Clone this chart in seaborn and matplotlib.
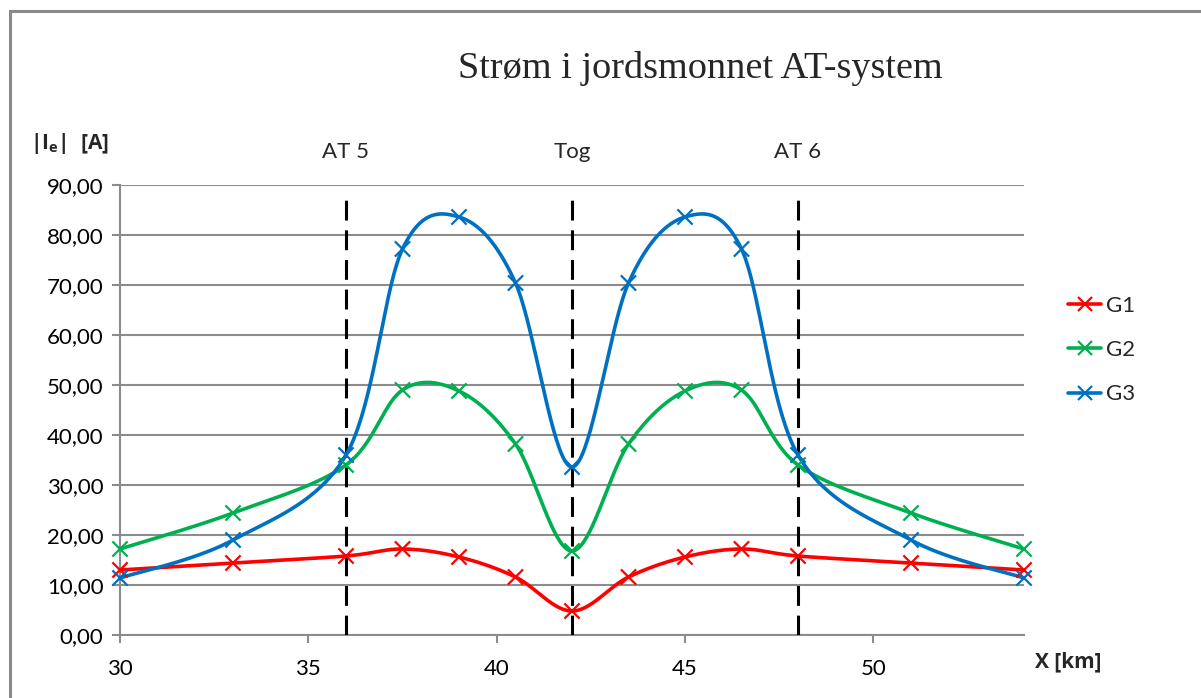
import numpy as np
import pandas as pd
import matplotlib
matplotlib.use("Agg")
import matplotlib.pyplot as plt
from matplotlib.lines import Line2D
from matplotlib.patches import Rectangle
import seaborn as sns

# ---- data ----
x_km = [30, 33, 36, 37.5, 39, 40.5, 42, 43.5, 45, 46.5, 48, 51, 54]
g1 = [13.0, 14.4, 15.8, 17.2, 15.6, 11.6, 4.8, 11.6, 15.6, 17.2, 15.8, 14.4, 13.0]
g2 = [17.2, 24.4, 34.0, 49.0, 48.8, 38.2, 16.8, 38.2, 48.8, 49.0, 34.0, 24.4, 17.2]
g3 = [11.4, 19.0, 36.0, 77.2, 83.6, 70.4, 33.6, 70.4, 83.6, 77.2, 36.0, 19.0, 11.4]
series_names = ["G1", "G2", "G3"]
series_colors = ["#FF0000", "#00B050", "#0070C0"]
markers_x = [36, 42, 48]
markers_lbl = ["AT 5", "Tog", "AT 6"]
yticks = [0, 10, 20, 30, 40, 50, 60, 70, 80, 90]
xticks = [30, 35, 40, 45, 50]


def smooth(xs, ys, n=40):
    """Excel-like smoothed line (Catmull-Rom Bezier)."""
    P = np.column_stack([xs, ys]).astype(float)
    out = []
    m = len(P)
    for i in range(m - 1):
        p0 = P[i - 1] if i > 0 else P[i]
        p1 = P[i]
        p2 = P[i + 1]
        p3 = P[i + 2] if i + 2 < m else P[i + 1]
        c1 = p1 + (p2 - p0) / 6.0
        c2 = p2 - (p3 - p1) / 6.0
        t = np.linspace(0, 1, n)[:, None]
        seg = ((1 - t) ** 3) * p1 + 3 * ((1 - t) ** 2) * t * c1 + 3 * (1 - t) * t ** 2 * c2 + t ** 3 * p2
        out.append(seg if i == 0 else seg[1:])
    return np.vstack(out)


frames = []
pts = []
for name, vals in zip(series_names, [g1, g2, g3]):
    s = smooth(x_km, vals)
    frames.append(pd.DataFrame({"x": s[:, 0], "y": s[:, 1], "series": name}))
    pts.append(pd.DataFrame({"x": x_km, "y": vals, "series": name}))
curves = pd.concat(frames, ignore_index=True)
points = pd.concat(pts, ignore_index=True)
palette = dict(zip(series_names, series_colors))

sns.set_theme(style="white")
plt.rcParams["font.family"] = ["Lato", "DejaVu Sans"]
plt.rcParams["mathtext.fontset"] = "custom"
plt.rcParams["mathtext.bf"] = "Open Sans:bold"
plt.rcParams["mathtext.rm"] = "Open Sans:bold"

fig = plt.figure(figsize=(12.01, 6.98), dpi=100)
ax = fig.add_axes([120 / 1201, 1 - 635 / 698, (1024 - 120) / 1201, (635 - 185) / 698])

# outer chart border
fig.patches.append(Rectangle((10 / 1201, -0.05), 1.2, 1 - 11 / 698 + 0.05,
                             transform=fig.transFigure, fill=False,
                             edgecolor="#8a8a8a", linewidth=2.2, zorder=0))

FS = 16
ax.set_xlim(30, 54)
ax.set_ylim(0, 90)
ax.set_yticks(yticks)
ax.set_xticks(xticks)
ax.set_yticklabels([f"{v:.2f}".replace(".", ",") for v in yticks], fontsize=FS)
ax.set_xticklabels([str(v) for v in xticks], fontsize=FS)
ax.grid(axis="y", color="#8c8c8c", linewidth=1.5)
ax.set_axisbelow(True)
for sp in ["top", "right"]:
    ax.spines[sp].set_visible(False)
for sp in ["left", "bottom"]:
    ax.spines[sp].set_color("#8c8c8c")
    ax.spines[sp].set_linewidth(1.5)
ax.tick_params(axis="both", which="both", direction="out", length=6, width=1.5,
               color="#8c8c8c", labelcolor="black", pad=6, bottom=True, left=True)
ax.tick_params(axis="x", pad=11)

# vertical dashed markers
for xv, lbl in zip(markers_x, markers_lbl):
    ax.plot([xv, xv], [0, 88.4], color="black", linewidth=2.2,
            dashes=(6.5, 3.2), zorder=3)
    ax.text(xv, 96.5, lbl, ha="center", va="center", fontsize=FS, clip_on=False)

sns.lineplot(data=curves, x="x", y="y", hue="series", units="series",
             estimator=None, sort=False, palette=palette, linewidth=2.6,
             ax=ax, legend=False, zorder=4)
sns.scatterplot(data=points, x="x", y="y", hue="series", palette=palette,
                marker="x", s=120, linewidth=1.6, ax=ax, legend=False, zorder=5,
                clip_on=False)
ax.set_xlabel("")
ax.set_ylabel("")

handles = [Line2D([0], [0], color=c, lw=2.6, marker="x", markersize=10,
                  markeredgewidth=1.6) for c in series_colors]
fig.legend(handles, series_names, loc="center left",
           bbox_to_anchor=(1048 / 1201, 1 - 350 / 698), frameon=False,
           fontsize=FS, handlelength=1.5, handletextpad=0.2, labelspacing=1.1)

fig.text(700 / 1201, 1 - 68 / 698, "Strøm i jordsmonnet AT-system",
         ha="center", va="center", fontsize=27.5,
         family=["Liberation Serif", "DejaVu Serif"])
fig.text(30 / 1201, 1 - 143 / 698, r"|I$_\mathrm{e}$|  [A]", ha="left", va="center",
         fontsize=15, fontweight="bold", family=["Open Sans", "DejaVu Sans"])
fig.text(1035 / 1201, 1 - 662 / 698, "X [km]", ha="left", va="center",
         fontsize=15, fontweight="bold", family=["Open Sans", "DejaVu Sans"])

fig.savefig("out.png", dpi=100)
